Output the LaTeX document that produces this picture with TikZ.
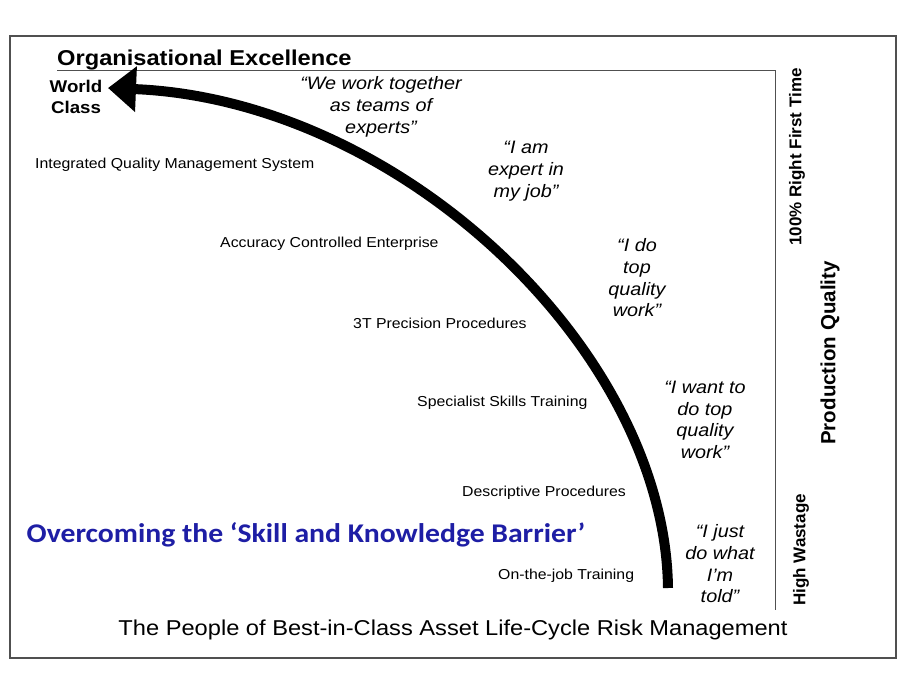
\documentclass[tikz,border=0pt]{standalone}
\usepackage{fontspec}
\setmainfont{Liberation Sans}
\newfontfamily\widefont[FakeStretch=1.1]{Liberation Sans}
\newfontfamily\barrierfont[FakeStretch=1.1]{Carlito}
\usetikzlibrary{arrows.meta}
\definecolor{barrierblue}{RGB}{30,30,165}
\definecolor{framegray}{RGB}{80,80,80}
\begin{document}
\begin{tikzpicture}[x=1pt,y=-1pt,
    lbl/.style={inner sep=0pt,font=\widefont\fontsize{14.4}{17}\selectfont},
    quote/.style={inner sep=0pt,align=center,font=\widefont\fontsize{18}{21.7}\selectfont\itshape},
    side/.style={inner sep=0pt,rotate=90,font=\fontsize{17}{20}\selectfont\bfseries}]
    \useasboundingbox[fill=white] (0,0) rectangle (900,675);
    %отрисовка рамки и осей
    \draw[framegray,line width=1.5pt] (10,36) rectangle (896,658);
    \coordinate (axl) at (57,70);
    \coordinate (axc) at (775,70);
    \coordinate (axb) at (775,610);
    \draw[framegray,line width=1pt] (axl) -- (axc) -- (axb);
    %заголовки
    \node[inner sep=0pt,anchor=base west,font=\widefont\fontsize{21.5}{24}\selectfont\bfseries] (oe) at (57,65) {Organisational Excellence};
    \node[inner sep=0pt,align=center,font=\widefont\fontsize{17}{21}\selectfont\bfseries] (wc) at (76,97) {World\\Class};
    \node[inner sep=0pt,font=\widefont\fontsize{21.5}{24}\selectfont] (title) at (453,630) {The People of Best-in-Class Asset Life-Cycle Risk Management};
    \node[inner sep=0pt,text=barrierblue,font=\barrierfont\fontsize{27}{30}\selectfont\bfseries] (barrier) at (306,535) {Overcoming the ‘Skill and Knowledge Barrier’};
    %ступени слева от дуги
    \node[lbl,anchor=west] (iqms) at (35,165) {Integrated Quality Management System};
    \node[lbl,anchor=west] (ace) at (220,244) {Accuracy Controlled Enterprise};
    \node[lbl,anchor=west] (tpp) at (353,323) {3T Precision Procedures};
    \node[lbl,anchor=west] (sst) at (417,403) {Specialist Skills Training};
    \node[lbl,anchor=west] (dpr) at (462,493) {Descriptive Procedures};
    \node[lbl,anchor=west] (ojt) at (498,576) {On-the-job Training};
    %цитаты справа от дуги
    \node[quote] (qteam) at (381,107) {“We work together\\as teams of\\experts”};
    \node[quote] (qexpert) at (526,171) {“I am\\expert in\\my job”};
    \node[quote] (qdo) at (637,278) {“I do\\top\\quality\\work”};
    \node[quote] (qwant) at (705,420) {“I want to\\do top\\quality\\work”};
    \node[quote] (qjust) at (720,564) {“I just\\do what\\I’m\\told”};
    %подписи оси качества
    \node[side] (rft) at (797,157) {100\% Right First Time};
    \node[side,font=\fontsize{20.5}{24}\selectfont\bfseries] (pq) at (830,353) {Production Quality};
    \node[side] (hw) at (801,550) {High Wastage};
    %отрисовка дуги со стрелкой
    \coordinate (start) at (668,588);
    \coordinate (tip) at (108,88);
    \draw[line width=10pt,-{Triangle[length=28pt,width=44pt]}] (start) .. controls (665,350) and (400,100) .. (tip);
\end{tikzpicture}
\end{document}
